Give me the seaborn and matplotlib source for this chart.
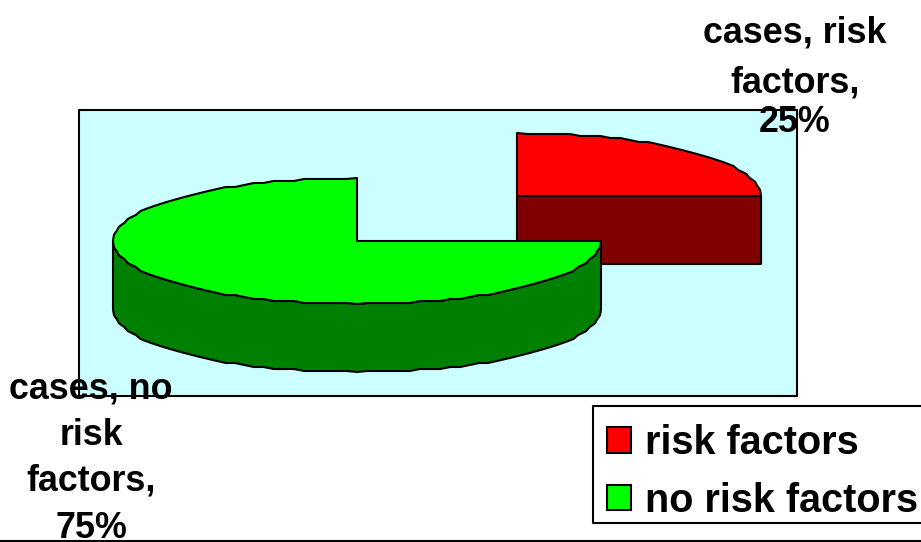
import numpy as np
import matplotlib
matplotlib.use("Agg")
import matplotlib.pyplot as plt
from matplotlib.patches import Polygon, Rectangle
import seaborn as sns

categories = ["risk factors", "no risk factors"]
shares = [25, 75]
label_lines = [["cases, risk", "factors,"], ["cases, no", "risk", "factors,"]]
top_colors = ["#ff0000", "#00ff00"]
side_colors = ["#800000", "#008000"]

sns.set_theme(style="white")
plt.rcParams["font.family"] = ["Liberation Sans", "DejaVu Sans"]

W, H = 921, 542
fig = plt.figure(figsize=(W / 100, H / 100), dpi=100)
ax = fig.add_axes([0, 0, 1, 1])
ax.set_xlim(0, W)
ax.set_ylim(H, 0)
ax.axis("off")

LINE = dict(edgecolor="black", linewidth=1.5, joinstyle="round")
RX, RY, DEPTH = 244, 63, 68
STEP_DEG = 2.5
centers = [(517, 196), (357, 241)]


def rim_angles(start, stop):
    """Angles along a slice's rim, at a coarse step so the outline looks faceted."""
    n = max(2, int(round((stop - start) / STEP_DEG)) + 1)
    return np.linspace(start, stop, n)


def rim(cx, cy, angles):
    """Ellipse points at angles measured clockwise from twelve o'clock, snapped to a 2 px row grid."""
    a = np.radians(angles)
    x = cx + RX * np.sin(a)
    rise = np.clip(2 * np.round(RY * np.cos(a) / 2), -RY, RY)
    return np.column_stack([x, cy - rise])


# Plot area
ax.add_patch(Rectangle((79, 110), 718, 286, facecolor="#ccffff", zorder=1, **LINE))

# Bottom rule along the canvas edge
ax.plot([0, W], [541, 541], color="black", lw=1.5, zorder=1, clip_on=False)

# Slices, back one first, each made of its extruded walls and its top face
start = 0.0
for i, share in enumerate(shares):
    stop = start + 360 * share / sum(shares)
    cx, cy = centers[i]
    angles = rim_angles(start, stop)
    edge = rim(cx, cy, angles)
    z = 2 + i

    # Straight cut face seen from the front
    if start < 90:
        x_end = edge[np.argmin(np.abs(angles - 90)), 0]
        ax.add_patch(Rectangle((cx, cy), x_end - cx, DEPTH,
                               facecolor=side_colors[i], zorder=z, **LINE))
    # Curved outer wall over the front half of the rim
    front = edge[(angles >= 90) & (angles <= 270)]
    if len(front):
        wall = np.vstack([front, (front + [0, DEPTH])[::-1]])
        ax.add_patch(Polygon(wall, closed=True, facecolor=side_colors[i], zorder=z, **LINE))
    ax.add_patch(Polygon(np.vstack([[cx, cy], edge]), closed=True,
                         facecolor=top_colors[i], zorder=z + 0.5, **LINE))
    start = stop

# Data labels, one text per line so the spacing can follow the layout
label_fs = 25.8
x_centers = [795, 91]
baselines = [[42, 92], [398, 445, 491]]
last_baselines = [132, 538]
clip = Rectangle((0, 0), W, 537, transform=ax.transData)
for lines, bases, last, xc, share in zip(label_lines, baselines, last_baselines, x_centers, shares):
    for text, y in zip(lines + [f"{share}%"], bases + [last]):
        t = ax.text(xc, y, text, ha="center", va="baseline", fontsize=label_fs,
                    fontweight="bold", color="black", zorder=6)
        t.set_clip_path(clip)

# Legend frame runs off the right edge of the canvas
ax.add_patch(Rectangle((593, 406), 360, 117, facecolor="white", zorder=7, **LINE))
handles = [Rectangle((0, 0), 1, 1, facecolor=c, edgecolor="black", linewidth=1.5) for c in top_colors]
leg = ax.legend(handles, categories, loc="upper left",
                bbox_to_anchor=(607 / W, 1 - 424 / H), bbox_transform=fig.transFigure,
                prop={"size": 28.5, "weight": "bold"}, borderaxespad=0, borderpad=0,
                handlelength=0.6, handleheight=0.6, handletextpad=0.35, labelspacing=0.5,
                frameon=False, labelcolor="black")
leg.set_zorder(8)

fig.savefig("out.png", dpi=100)
